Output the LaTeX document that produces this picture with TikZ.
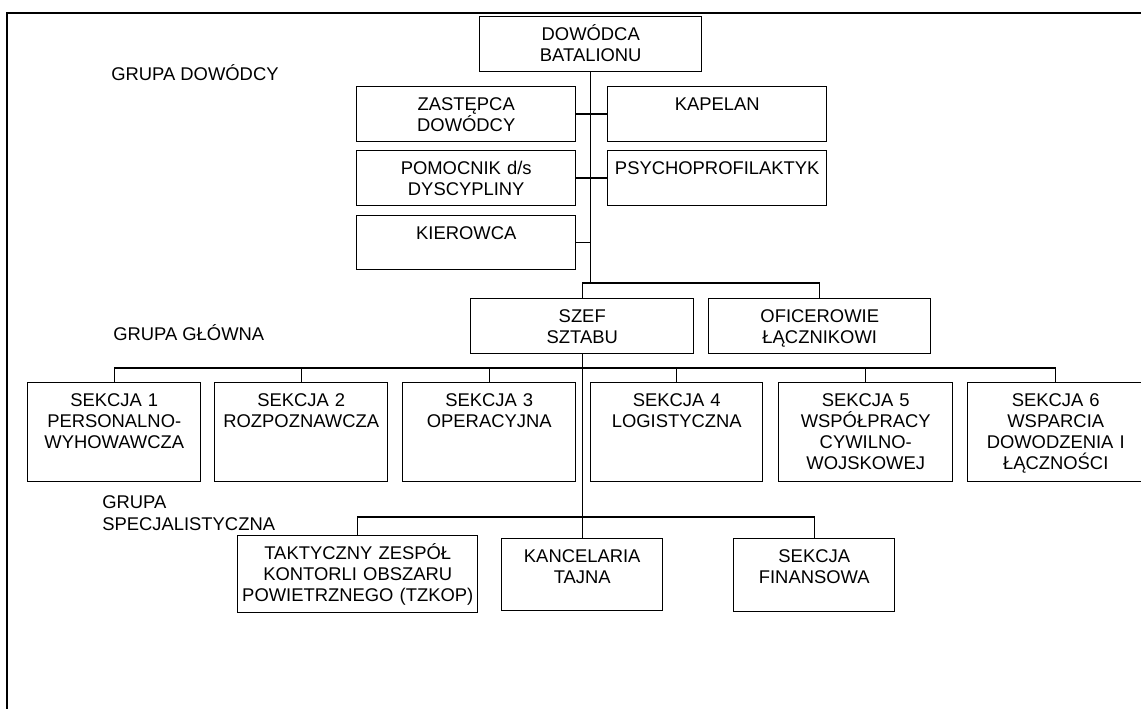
\documentclass[tikz,border=0pt]{standalone}
\usepackage{fontspec}
\setmainfont{Liberation Sans}
\usetikzlibrary{calc}
\tikzset{
  orgbox/.style={draw, line width=1.1pt, inner sep=0pt, align=center, anchor=north west,
    font=\fontsize{13.8pt}{15.75pt}\selectfont},
  grouplabel/.style={inner sep=0pt, align=left, anchor=west,
    font=\fontsize{13.8pt}{16.2pt}\selectfont},
  conn/.style={line width=1.1pt},
  framestyle/.style={line width=1.5pt}
}
\newcommand\orgnode[6]{%
  \pgfmathsetmacro\obw{(#4-#2)*0.75}%
  \pgfmathsetmacro\obd{(#5-#3)*0.75-18}%
  \node[orgbox, text width=\obw pt, text height=18pt, text depth=\obd pt] (#1) at (#2,#3) {#6};}
\begin{document}
\begin{tikzpicture}[x=0.75pt, y=-0.75pt]
\useasboundingbox (0,0) rectangle (1141,709);
% frame
\coordinate (frTR) at (1145,13);
\coordinate (frTL) at (7,13);
\coordinate (frBL) at (7,713);
\draw[framestyle] (frTR) -- (frTL) -- (frBL);

% group labels
\node[grouplabel] (lblDow) at (111,73) {GRUPA DOWÓDCY};
\node[grouplabel] (lblGl) at (113,333) {GRUPA GŁÓWNA};
\node[grouplabel] (lblSp) at (102,513) {GRUPA\\SPECJALISTYCZNA};

% boxes
\orgnode{dow}{479}{16}{701}{71}{DOWÓDCA\\BATALIONU}
\orgnode{zast}{356}{86}{575}{141}{ZASTĘPCA\\DOWÓDCY}
\orgnode{kap}{607}{86}{826}{141}{KAPELAN}
\orgnode{pom}{356}{150}{575}{205}{POMOCNIK d/s\\DYSCYPLINY}
\orgnode{psy}{607}{150}{826}{205}{PSYCHOPROFILAKTYK}
\orgnode{kier}{356}{215}{575}{269}{KIEROWCA}
\orgnode{szef}{470}{298}{693}{353}{SZEF\\SZTABU}
\orgnode{ofi}{708}{298}{930}{353}{OFICEROWIE\\ŁĄCZNIKOWI}
\orgnode{s1}{27}{382}{200}{481}{SEKCJA 1\\PERSONALNO-\\WYHOWAWCZA}
\orgnode{s2}{214}{382}{387}{481}{SEKCJA 2\\ROZPOZNAWCZA}
\orgnode{s3}{402}{382}{575}{481}{SEKCJA 3\\OPERACYJNA}
\orgnode{s4}{590}{382}{762}{481}{SEKCJA 4\\LOGISTYCZNA}
\orgnode{s5}{778}{382}{952}{481}{SEKCJA 5\\WSPÓŁPRACY\\CYWILNO-\\WOJSKOWEJ}
\orgnode{s6}{967}{382}{1143}{481}{SEKCJA 6\\WSPARCIA\\DOWODZENIA I\\ŁĄCZNOŚCI}
\orgnode{tak}{237}{535}{477}{612}{TAKTYCZNY ZESPÓŁ\\KONTORLI OBSZARU\\POWIETRZNEGO (TZKOP)}
\orgnode{kan}{501}{538}{662}{610}{KANCELARIA\\TAJNA}
\orgnode{fin}{733}{538}{894}{611}{SEKCJA\\FINANSOWA}

% level coordinates
\coordinate (yTop) at (0,283);
\coordinate (ySec) at (0,368);
\coordinate (ySpec) at (0,517);

% command group
\draw[conn] (dow.south) -- (dow.south |- yTop);
\draw[conn] (zast.east) -- (kap.west);
\draw[conn] (pom.east) -- (psy.west);
\draw[conn] (kier.east) -- (kier.east -| dow.south);
\draw[conn] (szef.north) -- (szef.north |- yTop) -- (ofi.north |- yTop) -- (ofi.north);

% main group
\draw[conn] (szef.south) -- (kan.north);
\draw[conn] (s1.north) -- (s1.north |- ySec) -- (s6.north |- ySec) -- (s6.north);
\draw[conn] (s2.north) -- (s2.north |- ySec);
\draw[conn] (s3.north) -- (s3.north |- ySec);
\draw[conn] (s4.north) -- (s4.north |- ySec);
\draw[conn] (s5.north) -- (s5.north |- ySec);

% specialist group
\draw[conn] (tak.north) -- (tak.north |- ySpec) -- (fin.north |- ySpec) -- (fin.north);
\end{tikzpicture}
\end{document}
